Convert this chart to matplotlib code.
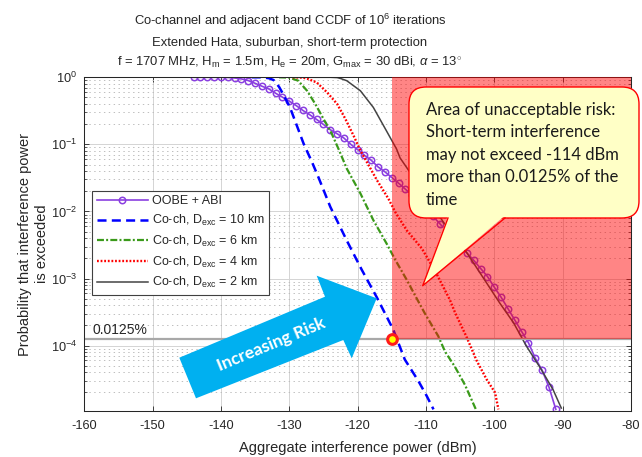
import numpy as np
import matplotlib
matplotlib.use('Agg')
import matplotlib.pyplot as plt
from matplotlib.patches import Rectangle, Polygon, FancyBboxPatch
from matplotlib.lines import Line2D
from matplotlib.transforms import IdentityTransform
import matplotlib.ticker as mticker

# ---------------- data ----------------
oobe_x = [-144, -143, -142, -141, -140, -139, -138, -137, -136, -135, -134, -133,
          -132, -131, -130, -129, -128, -127, -126, -125, -124, -123, -122, -121,
          -120, -119, -118, -117, -116, -115, -114, -113, -112, -111, -110, -109,
          -108, -107, -106, -105, -104, -103, -102, -101, -100, -99, -98, -97,
          -96, -95, -94, -93, -92, -91]
oobe_p = [1.0, 1.0, 1.0, 1.0, 1.0, 0.995, 0.977, 0.946, 0.893, 0.813, 0.736, 0.671,
          0.578, 0.505, 0.441, 0.379, 0.320, 0.276, 0.235, 0.198, 0.165, 0.144, 0.124, 0.100,
          0.0834, 0.0687, 0.0578, 0.0460, 0.0389, 0.0320, 0.0263, 0.0214, 0.0174, 0.0138, 0.0110, 0.00851,
          0.00661, 0.00513, 0.00398, 0.00309, 0.00240, 0.00186, 0.00141, 0.00107, 7.41e-4, 5.25e-4, 3.55e-4, 2.40e-4,
          1.62e-4, 1.10e-4, 6.46e-5, 4.27e-5, 2.40e-5, 1.12e-5]

d10_x = [-135.5, -134.0, -133.0, -132.3, -131.5, -130.9, -129.9, -129.2, -127.9, -126.7,
         -125.7, -124.0, -121.6, -119.4, -117.2, -114.8, -113.1, -111.1, -109.9, -108.9]
d10_p = [1.0, 1.0, 0.97, 0.91, 0.72, 0.56, 0.355, 0.23, 0.102, 0.055,
         0.0316, 0.0117, 0.0037, 0.00135, 5.25e-4, 1.74e-4, 6.2e-5, 2.95e-5, 1.78e-5, 1.12e-5]

d6_x = [-131.5, -130.0, -128.7, -127.4, -126.2, -125.0, -123.8, -122.7, -121.6, -119.6,
        -117.7, -115.75, -114.5, -112.8, -111.6, -110.15, -108.2, -107.2, -105.8, -104.3, -102.7]
d6_p = [1.0, 0.99, 0.89, 0.63, 0.40, 0.24, 0.145, 0.081, 0.0437, 0.0186,
        0.0074, 0.0033, 0.0019, 9.5e-4, 5.6e-4, 3.0e-4, 1.38e-4, 8.1e-5, 4.9e-5, 2.6e-5, 1.12e-5]

d4_x = [-129.5, -128.0, -127.4, -126.0, -124.5, -123.0, -121.8, -120.6, -119.6, -118.4,
        -117.2, -115.5, -114.5, -112.8, -110.6, -108.5, -106.5, -105.8, -104.0, -102.6,
        -101.1, -99.9, -99.4]
d4_p = [1.0, 0.99, 0.955, 0.84, 0.60, 0.40, 0.24, 0.135, 0.081, 0.049,
        0.0295, 0.0155, 0.0098, 0.0052, 0.0028, 0.0012, 4.8e-4, 3.2e-4, 1.3e-4, 6.0e-5,
        3.1e-5, 2.0e-5, 1.12e-5]

d2_x = [-129.0, -124.0, -123.0, -122.5, -121.6, -119.6, -117.7, -115.8, -114.3, -113.8,
        -110.9, -107.0, -104.0, -101.1, -99.2, -97.2, -95.3, -93.3, -91.4, -90.2]
d2_p = [1.0, 1.0, 0.99, 0.96, 0.89, 0.63, 0.355, 0.16, 0.085, 0.063,
        0.0234, 0.0059, 0.0024, 8.5e-4, 4.3e-4, 2.2e-4, 9.8e-5, 4.7e-5, 2.2e-5, 1.17e-5]

labels = ['OOBE + ABI',
          'Co-ch, D$_{\\rm exc}$ = 10 km',
          'Co-ch, D$_{\\rm exc}$ = 6 km',
          'Co-ch, D$_{\\rm exc}$ = 4 km',
          'Co-ch, D$_{\\rm exc}$ = 2 km']

risk_x0, risk_x1 = -115, -80
risk_p = 1.25e-4
x_ticks = [-160, -150, -140, -130, -120, -110, -100, -90, -80]
y_ticks = [1e-4, 1e-3, 1e-2, 1e-1, 1e0]

title_lines = ['Co-channel and adjacent band CCDF of 10$^{6}$ iterations',
               'Extended Hata, suburban, short-term protection',
               'f = 1707 MHz, H$_{\\rm m}$ = 1.5m, H$_{\\rm e}$ = 20m, G$_{\\rm max}$ = 30 dBi, $\\alpha$ = 13$^{\\circ}$']
callout_lines = ['Area of unacceptable risk:',
                 'Short-term interference',
                 'may not exceed -114 dBm',
                 'more than 0.0125% of the',
                 'time']

# ---------------- styling ----------------
W, H = 642, 457
plt.rcParams['font.family'] = ['Liberation Sans', 'DejaVu Sans']
plt.rcParams['mathtext.fontset'] = 'custom'
plt.rcParams['mathtext.rm'] = 'Liberation Sans'
plt.rcParams['mathtext.it'] = 'Liberation Sans:italic'
plt.rcParams['mathtext.bf'] = 'Liberation Sans:bold'
plt.rcParams['lines.scale_dashes'] = False
plt.rcParams['axes.unicode_minus'] = False
TXT = '#262626'

fig = plt.figure(figsize=(W / 100, H / 100), dpi=100)
ax = fig.add_axes([84.3 / W, 1 - 410.7 / H, (631 - 84.3) / W, (410.7 - 77.3) / H])
PX = IdentityTransform()

def P(x, y):
    return (x, H - y)

ax.set_yscale('log')
ax.set_xlim(-160, -80)
ax.set_ylim(1.07e-5, 1.0)

ax.grid(True, which='major', color='#d4d4d4', lw=0.7)
ax.grid(True, which='minor', axis='y', color='#bdbdbd', lw=0.7, ls=(0, (1, 2.5)))
ax.set_axisbelow(True)

ax.plot(oobe_x, oobe_p, color='#8A3FE0', lw=1.2, marker='o', ms=4.6, mfc='none', mew=1.1,
        label=labels[0], zorder=2)
ax.plot(d10_x, d10_p, color='#0000FF', lw=1.8, ls=(0, (6.5, 3.8)), label=labels[1], zorder=2)
ax.plot(d6_x, d6_p, color='#3A9A1A', lw=1.6, ls=(0, (5, 1.6, 1.4, 1.6)), label=labels[2], zorder=2)
ax.plot(d4_x, d4_p, color='#FF0000', lw=1.7, ls=(0, (1.3, 1.3)), label=labels[3], zorder=2)
ax.plot(d2_x, d2_p, color='#444444', lw=1.1, ls='-', label=labels[4], zorder=2)

ax.axhline(risk_p, color='#a8a8a8', lw=1.6, zorder=2.5)
ax.add_patch(Rectangle((risk_x0, risk_p), risk_x1 - risk_x0, 1.0 - risk_p,
                       facecolor='#FF0000', alpha=0.48, edgecolor='none', zorder=3))
ax.plot([risk_x0], [risk_p], 'o', ms=7, mfc='#FFFF00', mec='#FF1A1A', mew=2.2, zorder=6)
ax.text(-158.8, 1.5e-4, '0.0125%', fontsize=10, color=TXT, va='baseline', ha='left', zorder=6)

ax.set_xticks(x_ticks)
ax.set_yticks(y_ticks)
ax.yaxis.set_major_formatter(mticker.LogFormatterSciNotation())
ax.yaxis.set_minor_locator(mticker.LogLocator(base=10, subs=np.arange(2, 10)))
ax.yaxis.set_minor_formatter(mticker.NullFormatter())
ax.tick_params(which='both', direction='in', top=True, right=True, colors=TXT, labelsize=9.2)
ax.tick_params(which='major', length=3.5, width=0.6)
ax.tick_params(which='minor', length=2, width=0.5)
ax.tick_params(axis='x', pad=7)
ax.tick_params(axis='y', pad=5)
for s in ax.spines.values():
    s.set_color(TXT)
    s.set_linewidth(0.75)

ax.set_xlabel('Aggregate interference power (dBm)', fontsize=10.5, color=TXT, va='top')
ax.xaxis.set_label_coords(0.5, -(441 - 410.7) / 333.4)
ax.set_ylabel('Probability that interference power\nis exceeded', fontsize=10.5, color=TXT,
              va='center', ha='center', linespacing=1.25)
ax.yaxis.set_label_coords((33.4 - 84.3) / 546.7, 0.5)

leg = ax.legend(loc='upper left', bbox_to_anchor=((92.3 - 84.3) / 546.7, (410.7 - 191) / 333.4),
                borderaxespad=0, fontsize=9, frameon=True, fancybox=False, framealpha=1,
                edgecolor='#404040', handlelength=4.1, handletextpad=0.35, labelspacing=0.45,
                borderpad=0.35)
leg.get_frame().set_linewidth(0.8)
for t in leg.get_texts():
    t.set_color(TXT)

# title (three lines)
for line, yb in zip(title_lines, [25, 45.7, 65.7]):
    fig.text(*P(290, yb), line, transform=PX, ha='center', va='baseline', fontsize=9.4, color=TXT)

# big blue arrow
arrow_pts = [P(196, 398.3), P(179.3, 357.7), P(325, 296.7), P(316.7, 275.7),
             P(376.7, 298.3), P(351.7, 358.3), P(343.3, 340)]
fig.add_artist(Polygon(arrow_pts, closed=True, transform=PX, facecolor='#00B0F0',
                       edgecolor='none', zorder=5))
fig.text(*P(271, 345), 'Increasing Risk', transform=PX, rotation=22.5, rotation_mode='anchor',
         ha='center', va='center', fontsize=12.5, fontweight='bold', color='white',
         family=['Lato', 'DejaVu Sans'], zorder=6)

# callout
box = FancyBboxPatch(P(409, 218), 230, 131, boxstyle='round,pad=0,rounding_size=17',
                     transform=PX, facecolor='#FFFFC6', edgecolor='#FF0000', lw=1.0, zorder=7)
fig.add_artist(box)
fig.add_artist(Polygon([P(448, 215.5), P(422.7, 285.7), P(505, 215.5)], closed=True,
                       transform=PX, facecolor='#FFFFC6', edgecolor='none', zorder=8))
fig.add_artist(Line2D([448, 422.7, 505], [H - 218, H - 285.7, H - 218], transform=PX,
                      color='#FF0000', lw=1.0, zorder=9))
for line, yb in zip(callout_lines, [115, 137.4, 159.8, 182.2, 204.6]):
    fig.text(*P(426, yb), line, transform=PX, ha='left', va='baseline', fontsize=12,
             color='#1a1a1a', family=['Lato', 'DejaVu Sans'], zorder=10)

fig.savefig('out.png', dpi=100)
